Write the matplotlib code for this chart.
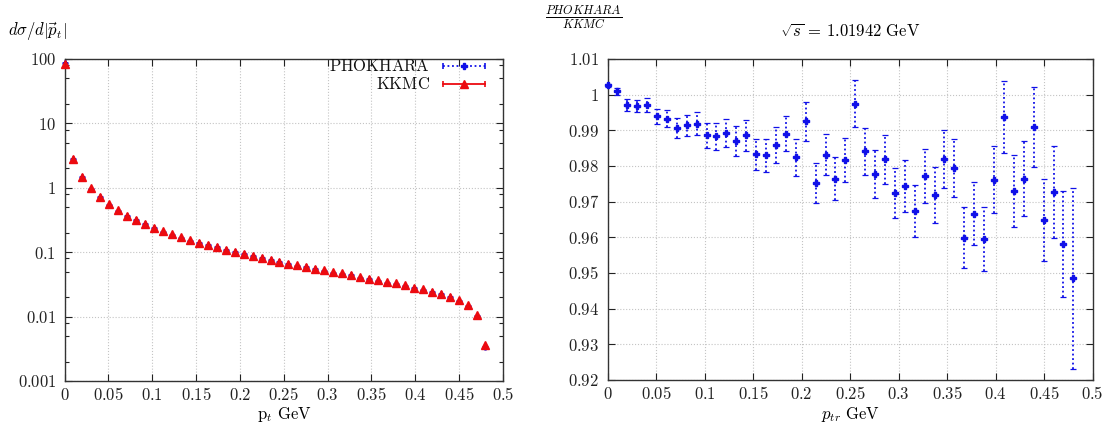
import numpy as np
import matplotlib.pyplot as plt
from matplotlib.ticker import LogLocator, NullFormatter

plt.rcParams['mathtext.fontset'] = 'cm'
plt.rcParams['font.family'] = ['DejaVu Serif']

# transverse momentum bins (GeV)
pt = [0.000, 0.0102, 0.0204, 0.0306, 0.0409, 0.0511, 0.0613, 0.0715, 0.0817, 0.0919,
      0.1021, 0.1123, 0.1226, 0.1328, 0.1430, 0.1532, 0.1634, 0.1736, 0.1838, 0.1940,
      0.2043, 0.2145, 0.2247, 0.2349, 0.2451, 0.2553, 0.2655, 0.2757, 0.2860, 0.2962,
      0.3064, 0.3166, 0.3268, 0.3370, 0.3472, 0.3574, 0.3677, 0.3779, 0.3881, 0.3983,
      0.4085, 0.4187, 0.4289, 0.4391, 0.4494, 0.4596, 0.4698, 0.4800]

# KKMC dsigma/d|pt|
kkmc = [85, 2.79, 1.48, 0.977, 0.71, 0.552, 0.446, 0.367, 0.315, 0.274,
        0.237, 0.21, 0.189, 0.17, 0.153, 0.14, 0.130, 0.120, 0.110, 0.101,
        0.0944, 0.0879, 0.0818, 0.0762, 0.0705, 0.0664, 0.0624, 0.0593, 0.0558, 0.0526,
        0.0496, 0.0467, 0.0446, 0.0415, 0.039, 0.0367, 0.0347, 0.0327, 0.0308, 0.028,
        0.0264, 0.0245, 0.0226, 0.0203, 0.018, 0.0149, 0.0105, 0.00356]

# PHOKHARA / KKMC ratio and its error
ratio = [1.0026, 1.0009, 0.9970, 0.9967, 0.9970, 0.9939, 0.9933, 0.9907, 0.9914, 0.9919,
         0.9886, 0.9883, 0.9893, 0.9870, 0.9886, 0.9833, 0.9830, 0.9858, 0.9891, 0.9825,
         0.9925, 0.9752, 0.9832, 0.9764, 0.9816, 0.9975, 0.9841, 0.9777, 0.9819, 0.9724,
         0.9744, 0.9673, 0.9771, 0.9718, 0.9819, 0.9795, 0.9599, 0.9666, 0.9595, 0.9762,
         0.9937, 0.9730, 0.9764, 0.9909, 0.9648, 0.9727, 0.9581, 0.9485]
ratio_err = [0.0005, 0.001, 0.0017, 0.0017, 0.002, 0.0021, 0.0024, 0.0028, 0.003, 0.0032,
             0.0035, 0.0037, 0.0039, 0.0041, 0.0043, 0.0044, 0.0047, 0.005, 0.005, 0.0052,
             0.0055, 0.0055, 0.0057, 0.006, 0.0062, 0.0065, 0.0065, 0.0067, 0.0069, 0.007,
             0.0072, 0.0073, 0.0076, 0.0078, 0.0081, 0.0082, 0.0085, 0.0088, 0.009, 0.0094,
             0.01, 0.01, 0.0105, 0.0113, 0.0115, 0.0128, 0.0149, 0.0253]

xticks = [0, 0.05, 0.1, 0.15, 0.2, 0.25, 0.3, 0.35, 0.4, 0.45, 0.5]
xtick_labels = ['0', '0.05', '0.1', '0.15', '0.2', '0.25', '0.3', '0.35', '0.4', '0.45', '0.5']
left_yticks = [0.001, 0.01, 0.1, 1, 10, 100]
left_ylabels = ['0.001', '0.01', '0.1', '1', '10', '100']
right_yticks = [0.92, 0.93, 0.94, 0.95, 0.96, 0.97, 0.98, 0.99, 1.0, 1.01]
right_ylabels = ['0.92', '0.93', '0.94', '0.95', '0.96', '0.97', '0.98', '0.99', '1', '1.01']

blue = '#1010e8'
red = '#ec0a10'
fs = 12

def math(s):
    return [r'$\mathrm{%s}$' % t for t in s]

def style(ax):
    ax.tick_params(which='both', direction='in', top=True, right=True, labelsize=fs,
                   colors='#222222')
    ax.tick_params(axis='x', pad=4)
    ax.tick_params(axis='y', pad=6)
    ax.tick_params(which='major', length=5, width=0.8)
    ax.tick_params(which='minor', length=3, width=0.8)
    ax.grid(True, which='major', ls=':', color='#c4c4c4', lw=0.8)
    ax.set_axisbelow(True)
    for s in ax.spines.values():
        s.set_linewidth(1.0)
        s.set_color('#333333')

fig = plt.figure(figsize=(11.07, 4.30), dpi=100)
ax1 = fig.add_axes([0.0583, 0.114, 0.3961, 0.7488])
ax2 = fig.add_axes([0.5488, 0.1163, 0.4383, 0.7465])

# left panel: distribution
phok = np.array(kkmc) * np.array(ratio)
ax1.plot(pt, phok, ls='none', marker='P', ms=3.5, color=blue, zorder=3, clip_on=False)
ax1.plot(pt, kkmc, ls='none', marker='^', ms=6, color=red, zorder=4, clip_on=False)
ax1.set_yscale('log')
ax1.set_xlim(0, 0.5)
ax1.set_ylim(0.001, 100)
ax1.set_xticks(xticks, labels=math(xtick_labels))
ax1.set_yticks(left_yticks, labels=math(left_ylabels))
ax1.yaxis.set_minor_locator(LogLocator(base=10, subs=(2, 5, 8)))
ax1.yaxis.set_minor_formatter(NullFormatter())
style(ax1)

# legend drawn gnuplot style: right-aligned text, sample on the right
tr = ax1.transAxes
for yy, name, col, ls, mk, ms in [(0.978, 'PHOKHARA', blue, (0, (1, 1.5)), 'P', 4),
                                   (0.921, 'KKMC', red, '-', '^', 5.5)]:
    ax1.text(0.8335, yy, r'$\mathrm{%s}$' % name, transform=tr, ha='right', va='center',
             fontsize=fs, color='#111111')
    ax1.plot([0.863, 0.959], [yy, yy], transform=tr, color=col, ls=ls, lw=1.3, clip_on=False)
    ax1.plot([0.863, 0.959], [yy, yy], transform=tr, color=col, ls='none', marker='|',
             ms=5, mew=1.2, clip_on=False)
    ax1.plot([0.911], [yy], transform=tr, color=col, marker=mk, ms=ms, clip_on=False)

# right panel: ratio
line, caps, bars = ax2.errorbar(pt, ratio, yerr=ratio_err, fmt='P', ms=5, color=blue,
                                ecolor=blue, elinewidth=1.3, capsize=2, capthick=0.9,
                                clip_on=False, zorder=3)
bars[0].set_linestyle((0, (1, 1.5)))
ax2.set_xlim(0, 0.5)
ax2.set_ylim(0.92, 1.01)
ax2.set_xticks(xticks, labels=math(xtick_labels))
ax2.set_yticks(right_yticks, labels=math(right_ylabels))
style(ax2)

# axis titles placed like the original
fig.text(37 / 1107, 1 - 32 / 430, r'$d\sigma/d|\vec{p}_t|$', ha='center', va='center', fontsize=fs)
fig.text(584 / 1107, 1 - 18 / 430, r'$\frac{PHOKHARA}{KKMC}$', ha='center', va='center', fontsize=12.5)
fig.text(850 / 1107, 1 - 32 / 430, r'$\sqrt{s}\,=\,1.01942\ \mathrm{GeV}$', ha='center',
         va='center', fontsize=fs)
fig.text(284 / 1107, 1 - 415 / 430, r'$\mathrm{p}_t\ \mathrm{GeV}$', ha='center', va='center',
         fontsize=fs)
fig.text(850 / 1107, 1 - 415 / 430, r'$p_{tr}\ \mathrm{GeV}$', ha='center', va='center',
         fontsize=fs)

fig.savefig('out.png', dpi=100, facecolor='white')
